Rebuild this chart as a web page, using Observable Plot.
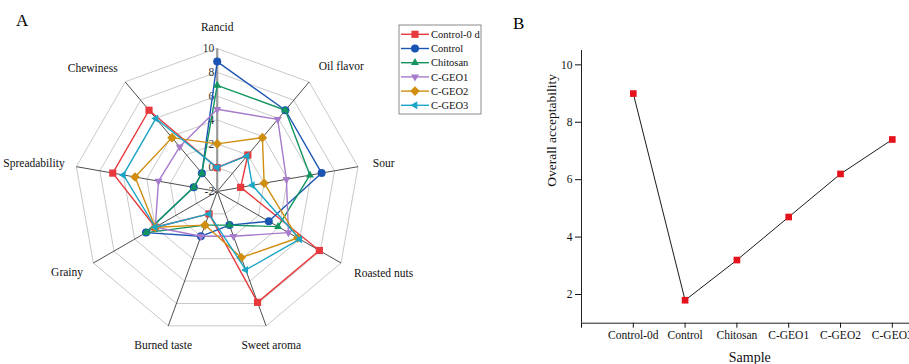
<!DOCTYPE html>
<html><head><meta charset="utf-8">
<script src="https://cdn.jsdelivr.net/npm/d3@7"></script>
<script src="https://cdn.jsdelivr.net/npm/@observablehq/plot@0.6"></script>
<style>
body{margin:0;background:#fff;}
#wrap{position:relative;width:909px;height:364px;overflow:hidden;background:#fff;font-family:"Liberation Serif","Times New Roman",serif;color:#000;}
.panel{position:absolute;top:0;}
.tag{position:absolute;font-size:17px;line-height:17px;}
</style></head><body><div id="wrap"></div>
<script>
// ---- Panel A data (radar) ----
const attributes = ["Rancid","Oil flavor","Sour","Roasted nuts","Sweet aroma","Burned taste","Grainy","Spreadability","Chewiness"];
const seriesNames = ["Control-0 d","Control","Chitosan","C-GEO1","C-GEO2","C-GEO3"];
const control0d = [0, 2.0, 0, 7.9, 7.9, 0, 4.0, 6.9, 6.9];
const control   = [8.9, 6.9, 6.9, 3.0, 1.0, 2.0, 4.9, 0, 0];
const chitosan  = [6.9, 6.9, 5.9, 3.9, 1.0, 1.0, 4.9, 0, 0];
const cgeo1     = [4.9, 5.9, 3.9, 4.9, 2.0, 2.0, 4.0, 3.0, 2.9];
const cgeo2     = [2.0, 3.9, 2.0, 5.8, 3.9, 1.0, 4.0, 5.0, 3.9];
const cgeo3     = [0, 1.9, 1.0, 6.0, 5.0, 0, 4.0, 6.0, 6.0];
const radarTicks = [-2, 0, 2, 4, 6, 8, 10];

// ---- Panel B data ----
const samples = ["Control-0d","Control","Chitosan","C-GEO1","C-GEO2","C-GEO3"];
const acceptability = [9.0, 1.8, 3.2, 4.7, 6.2, 7.4];
const acceptTicks = [2, 4, 6, 8, 10];

// ---- styles ----
const colors = ["#e8393d","#1b55b3","#12955f","#a77bcb","#cf8e10","#1ba5c6"];
const font = '"Liberation Serif","Times New Roman",serif';

// custom symbols (size = pi r^2)
const rad = s => Math.sqrt(s / Math.PI);
const symSquare = {draw(c, s){const h = rad(s)*0.9; c.rect(-h,-h,2*h,2*h);}};
const symCircle = {draw(c, s){const r = rad(s); c.moveTo(r,0); c.arc(0,0,r,0,2*Math.PI);}};
function tri(angle){
  return {draw(c, s){
    const R = rad(s)*1.15;
    for (let k = 0; k < 3; k++){
      const a = angle + k*2*Math.PI/3;
      const px = R*Math.sin(a), py = -R*Math.cos(a);
      if (k === 0) c.moveTo(px, py); else c.lineTo(px, py);
    }
    c.closePath();
  }};
}
const symDiamond = {draw(c, s){const h = rad(s)*1.2; c.moveTo(0,-h); c.lineTo(h,0); c.lineTo(0,h); c.lineTo(-h,0); c.closePath();}};
const symbols = [symSquare, symCircle, tri(0), tri(Math.PI), symDiamond, tri(-Math.PI/2)];

const seriesValues = [control0d, control, chitosan, cgeo1, cgeo2, cgeo3];
const n = attributes.length;
const rMin = radarTicks[0], rMax = radarTicks[radarTicks.length-1];
const R = rMax - rMin; // 12 units
const ang = i => i * 2 * Math.PI / n;
const px = (i, v) => (v - rMin) * Math.sin(ang(i));
const py = (i, v) => (v - rMin) * Math.cos(ang(i));

const wrap = document.getElementById("wrap");

// ---------- Panel A ----------
const cx = 216.7, cy = 191, pr = 143;
const ringVals = radarTicks.filter(t => t > rMin);
const ringPts = ringVals.flatMap(t => attributes.map((a, i) => ({ring: t, x: px(i, t), y: py(i, t)})));
const spokes = attributes.map((a, i) => ({i, x: px(i, rMax), y: py(i, rMax)}));
const labelPts = attributes.map((a, i) => {
  const s = Math.sin(ang(i)), c = Math.cos(ang(i));
  const gap = s < -0.5 ? 1.0 : 1.26;
  return {a, s, x: (R + gap) * s, y: (R + gap + 0.5) * c};
});

const marksA = [
  Plot.line(ringPts, {x: "x", y: "y", z: "ring", curve: "linear-closed", stroke: "#c9c9c9", strokeWidth: 1}),
  Plot.link(spokes.filter(d => d.i > 0), {x1: () => 0, y1: () => 0, x2: "x", y2: "y", stroke: "#3a3a3a", strokeWidth: 0.9}),
  Plot.link(spokes.filter(d => d.i === 0), {x1: () => 0, y1: () => 0, x2: "x", y2: "y", stroke: "#9a9a9a", strokeWidth: 2.2}),
  Plot.text(radarTicks, {x: () => 0, y: t => t - rMin, text: t => String(t), textAnchor: "end", dx: -3, fill: "#333", fontSize: 11.5}),
  Plot.text(labelPts.filter(d => d.s > 0.5), {x: "x", y: "y", text: "a", textAnchor: "start", fontSize: 11.5, fill: "#111"}),
  Plot.text(labelPts.filter(d => d.s < -0.5), {x: "x", y: "y", text: "a", textAnchor: "end", fontSize: 11.5, fill: "#111"}),
  Plot.text(labelPts.filter(d => Math.abs(d.s) <= 0.5), {x: "x", y: "y", text: "a", textAnchor: "middle", fontSize: 11.5, fill: "#111"})
];
seriesValues.forEach((vals, si) => {
  const pts = vals.map((v, i) => ({x: px(i, v), y: py(i, v)}));
  marksA.push(Plot.line(pts, {x: "x", y: "y", curve: "linear-closed", stroke: colors[si], strokeWidth: 1.4}));
  marksA.push(Plot.dot(pts, {x: "x", y: "y", r: 4, symbol: symbols[si], fill: colors[si], stroke: "none"}));
});

const plotA = Plot.plot({
  width: 460, height: 364, margin: 0,
  x: {domain: [-R, R], range: [cx - pr, cx + pr], axis: null},
  y: {domain: [-R, R], range: [cy + pr, cy - pr], axis: null},
  style: {fontFamily: font, background: "transparent", overflow: "visible"},
  marks: marksA
});
plotA.classList.add("panel");
plotA.style.left = "0px";
wrap.appendChild(plotA);

// legend (panel A)
const lg = d3.select(wrap).append("svg")
  .attr("width", 86).attr("height", 91)
  .style("position", "absolute").style("left", "398px").style("top", "24px");
lg.append("rect").attr("x", 1).attr("y", 1).attr("width", 82).attr("height", 89)
  .attr("fill", "#fff").attr("stroke", "#8a8a8a").attr("stroke-width", 1);
seriesNames.forEach((name, si) => {
  const y = 10.3 + si * 14.2;
  lg.append("line").attr("x1", 3).attr("x2", 31).attr("y1", y).attr("y2", y)
    .attr("stroke", colors[si]).attr("stroke-width", 1.4);
  lg.append("path").attr("d", d3.symbol(symbols[si], Math.PI * 16)())
    .attr("transform", `translate(17,${y})`).attr("fill", colors[si]);
  lg.append("text").attr("x", 33).attr("y", y).attr("dy", "0.35em")
    .attr("font-family", font).attr("font-size", 10.5).attr("fill", "#111").text(name);
});

// ---------- Panel B ----------
const bLeft = 500, bWidth = 450, bML = 81, bStep = 51.8;
const bMR = bWidth - bML - bStep * (samples.length + 1);
const pts = samples.map((s, i) => ({x: i + 1, y: acceptability[i]}));
const plotB = Plot.plot({
  width: bWidth, height: 364,
  marginLeft: bML, marginRight: bMR, marginTop: 50, marginBottom: 41.3,
  x: {domain: [0, samples.length + 1], ticks: d3.range(0, samples.length + 1), tickFormat: i => i >= 1 ? samples[i - 1] : "", tickSize: 5, tickPadding: 3, label: null},
  y: {domain: [1, 10.5], ticks: acceptTicks, tickSize: 6, tickPadding: 3, label: null},
  style: {fontFamily: font, fontSize: "11.5px", color: "#111", background: "transparent", overflow: "visible"},
  marks: [
    Plot.ruleX([0], {stroke: "#222", strokeWidth: 1}),
    Plot.ruleY([1], {stroke: "#222", strokeWidth: 1}),
    Plot.line(pts, {x: "x", y: "y", stroke: "#1a1a1a", strokeWidth: 1}),
    Plot.dot(pts, {x: "x", y: "y", r: 3.7, symbol: symSquare, fill: "#e5121c", stroke: "none"}),
    Plot.text(["Overall acceptability"], {frameAnchor: "left", rotate: -90, dx: -30, fontSize: 13.5, fill: "#111"}),
    Plot.text(["Sample"], {frameAnchor: "bottom", dx: -13, dy: 39, fontSize: 14, fill: "#111"})
  ]
});
plotB.classList.add("panel");
plotB.style.left = bLeft + "px";
wrap.appendChild(plotB);

// panel tags
const tA = document.createElement("div"); tA.className = "tag"; tA.textContent = "A";
tA.style.left = "16px"; tA.style.top = "12px"; wrap.appendChild(tA);
const tB = document.createElement("div"); tB.className = "tag"; tB.textContent = "B";
tB.style.left = "513px"; tB.style.top = "15px"; wrap.appendChild(tB);
</script></body></html>
